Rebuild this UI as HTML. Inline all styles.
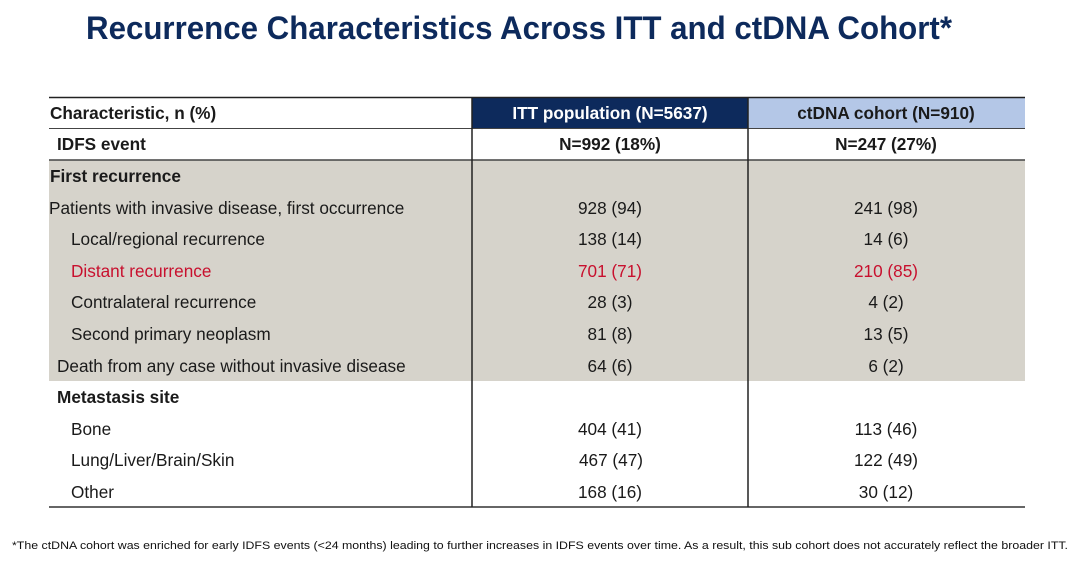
<!DOCTYPE html>
<html><head><meta charset="utf-8"><style>
html,body{margin:0;padding:0;background:#fff;}
svg{display:block;font-family:"Liberation Sans",Arial,sans-serif;}
</style></head><body>
<svg width="1076" height="566" viewBox="0 0 1076 566">
<text x="86" y="39" font-size="32" font-weight="bold" fill="#0d2a5c" textLength="866" lengthAdjust="spacingAndGlyphs">Recurrence Characteristics Across ITT and ctDNA Cohort*</text>
<rect x="49" y="160" width="976" height="221" fill="#d6d3cb"/>
<rect x="472" y="97" width="276" height="31" fill="#0d2a5c"/>
<rect x="748" y="97" width="277" height="31" fill="#b4c7e7"/>
<line x1="49" y1="97.5" x2="1025" y2="97.5" stroke="#222" stroke-width="1.5"/>
<line x1="49" y1="128.5" x2="1025" y2="128.5" stroke="#444" stroke-width="1"/>
<line x1="49" y1="160" x2="1025" y2="160" stroke="#444" stroke-width="1.5"/>
<line x1="49" y1="507" x2="1025" y2="507" stroke="#333" stroke-width="1.5"/>
<line x1="472" y1="97" x2="472" y2="507" stroke="#222" stroke-width="1.5"/>
<line x1="748" y1="97" x2="748" y2="507" stroke="#222" stroke-width="1.5"/>
<g font-size="17.2" fill="#1a1a1a">
<text x="50" y="119" font-weight="bold">Characteristic, n (%)</text>
<text x="610" y="119" font-weight="bold" fill="#fff" text-anchor="middle">ITT population (N=5637)</text>
<text x="886" y="119" font-weight="bold" text-anchor="middle">ctDNA cohort (N=910)</text>
<text x="57" y="150" font-weight="bold">IDFS event</text>
<text x="610" y="150" font-weight="bold" text-anchor="middle">N=992 (18%)</text>
<text x="886" y="150" font-weight="bold" text-anchor="middle">N=247 (27%)</text>
<text x="50" y="182" font-weight="bold">First recurrence</text>
<text x="49" y="214">Patients with invasive disease, first occurrence</text>
<text x="71" y="245">Local/regional recurrence</text>
<text x="71" y="277" fill="#c8102e">Distant recurrence</text>
<text x="71" y="308">Contralateral recurrence</text>
<text x="71" y="340">Second primary neoplasm</text>
<text x="57" y="372">Death from any case without invasive disease</text>
<text x="57" y="403" font-weight="bold">Metastasis site</text>
<text x="71" y="435">Bone</text>
<text x="71" y="466">Lung/Liver/Brain/Skin</text>
<text x="71" y="498">Other</text>
<g text-anchor="middle">
<text x="610" y="214">928 (94)</text><text x="886" y="214">241 (98)</text>
<text x="610" y="245">138 (14)</text><text x="886" y="245">14 (6)</text>
<text x="610" y="277" fill="#c8102e">701 (71)</text><text x="886" y="277" fill="#c8102e">210 (85)</text>
<text x="610" y="308">28 (3)</text><text x="886" y="308">4 (2)</text>
<text x="610" y="340">81 (8)</text><text x="886" y="340">13 (5)</text>
<text x="610" y="372">64 (6)</text><text x="886" y="372">6 (2)</text>
<text x="610" y="435">404 (41)</text><text x="886" y="435">113 (46)</text>
<text x="611" y="466">467 (47)</text><text x="886" y="466">122 (49)</text>
<text x="610" y="498">168 (16)</text><text x="886" y="498">30 (12)</text>
</g>
</g>
<text x="12" y="549" font-size="11" fill="#111" textLength="1056" lengthAdjust="spacingAndGlyphs">*The ctDNA cohort was enriched for early IDFS events (&lt;24 months) leading to further increases in IDFS events over time. As a result, this sub cohort does not accurately reflect the broader ITT.</text>
</svg>
</body></html>
